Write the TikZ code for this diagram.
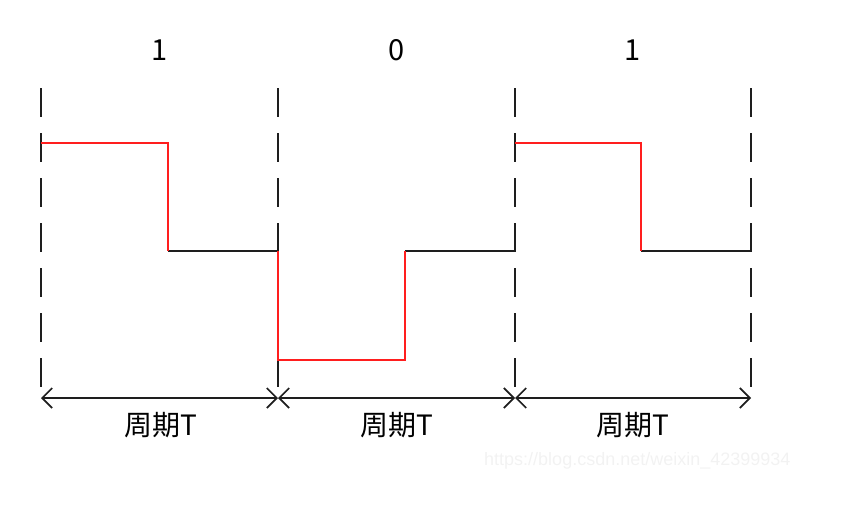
\documentclass[tikz,border=0pt]{standalone}
\usepackage{fontspec}
\newfontfamily\cjkfont{Noto Sans CJK SC}
\newfontfamily\wmfont{Liberation Sans}
\usetikzlibrary{arrows.meta}
\definecolor{sigred}{RGB}{255,30,30}
\definecolor{ink}{RGB}{30,30,30}
\definecolor{wm}{RGB}{242,242,242}
\begin{document}
\begin{tikzpicture}[x=1pt,y=-1pt,
  divider/.style={draw=ink,line width=2.3pt,dash pattern=on 29pt off 16pt},
  high/.style={draw=sigred,line width=1.9pt,line join=miter},
  low/.style={draw=ink,line width=1.9pt},
  span/.style={draw=ink,line width=1.7pt,{Straight Barb[length=10pt,width=20pt]}-{Straight Barb[length=10pt,width=20pt]}},
  bit/.style={font=\cjkfont\fontsize{29}{30}\selectfont,inner sep=0pt},
  per/.style={font=\cjkfont\fontsize{28}{30}\selectfont,inner sep=0pt},
  wmark/.style={font=\wmfont\fontsize{18}{20}\selectfont,text=wm,inner sep=0pt}]
\useasboundingbox (0,0) rectangle (847,514);
% divider tops and bottoms
\foreach \n/\x in {a/41,b/278,c/515,d/751}{
  \coordinate (\n t) at (\x,88);
  \coordinate (\n b) at (\x,398);
}
\foreach \n in {a,b,c,d}{\draw[divider] (\n t) -- (\n b);}
% waveform points
\coordinate (p1) at (41,143);
\coordinate (p2) at (168,143);
\coordinate (p3) at (168,251);
\coordinate (p4) at (278,251);
\coordinate (q1) at (278,360);
\coordinate (q2) at (405,360);
\coordinate (q3) at (405,251);
\coordinate (q4) at (515,251);
\coordinate (r1) at (515,143);
\coordinate (r2) at (641,143);
\coordinate (r3) at (641,251);
\coordinate (r4) at (751,251);
\draw[low] (p3) -- (p4);
\draw[low] (q3) -- (q4);
\draw[low] (r3) -- (r4);
\draw[high] (p1) -- (p2) -- (p3);
\draw[high] (p4) -- (q1) -- (q2) -- (q3);
\draw[high] (r1) -- (r2) -- (r3);
% period spans
\draw[span] (ab) -- (bb);
\draw[span] (bb) -- (cb);
\draw[span] (cb) -- (db);
% labels
\node[bit] (l1) at (160,50) {1};
\node[bit] (l2) at (397,50) {0};
\node[bit] (l3) at (633,50) {1};
\node[per] (t1) at (161,425) {周期T};
\node[per] (t2) at (397,425) {周期T};
\node[per] (t3) at (633,425) {周期T};
\node[wmark,anchor=west] (w) at (484,461) {https://blog.csdn.net/weixin\_42399934};
\end{tikzpicture}
\end{document}
